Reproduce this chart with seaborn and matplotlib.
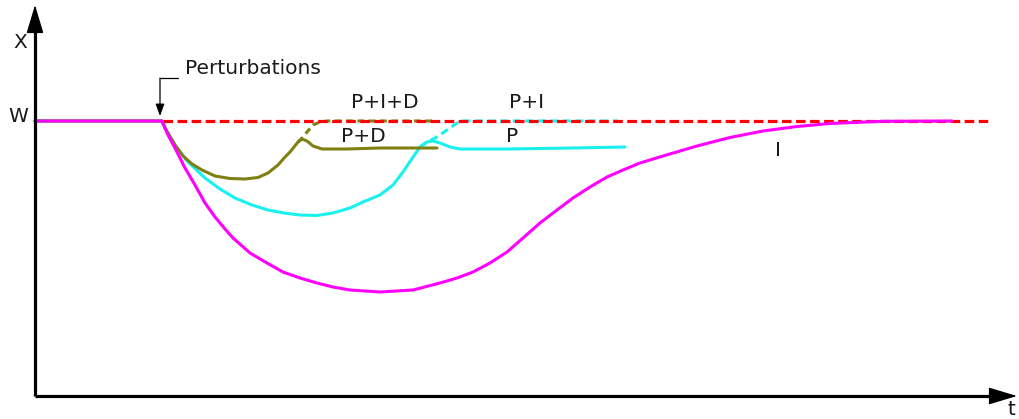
import matplotlib
matplotlib.use("Agg")
import matplotlib.pyplot as plt
import seaborn as sns

# ---- data (t = time, X = controlled variable) ----
W = 275
setpoint_t = [128, 955]

i_t = [0, 127, 133, 140, 150, 160, 170, 180, 190, 198, 215, 232, 248, 265, 282, 298, 315, 345,
       378, 405, 422, 438, 455, 472, 488, 505, 522, 538, 555, 572, 588, 605, 628, 645, 662, 695,
       728, 762, 795, 848, 917]
i_x = [275, 275, 261, 248, 228, 211, 193, 179, 167, 158, 143, 133, 124, 118, 113, 109, 106, 104,
       106, 113, 118, 124, 133, 144, 158, 173, 186, 198, 209, 219, 226, 233, 240, 245, 250, 258.5,
       265, 269.5, 272.5, 274.7, 275]

p_t = [0, 127, 130, 140, 153, 170, 185, 200, 217, 233, 249, 265, 282, 298, 315, 328, 345, 358,
       368, 378, 385, 392, 398, 405, 415, 425, 472, 538, 590]
p_x = [275, 275, 268, 251, 234, 218, 207, 198, 191, 186, 183, 181, 180.5, 183, 188, 194, 201, 211,
       224, 239, 249, 254, 255, 253, 249, 247, 247, 248, 249]

pi_t = [385, 392, 402, 412, 422, 428, 583]
pi_x = [249, 254, 259, 266, 273, 275, 275]

pd_t = [0, 127, 130, 140, 148, 157, 167, 180, 195, 210, 223, 233, 243, 250, 255, 263, 267, 272,
        278, 287, 312, 345, 402]
pd_x = [275, 275, 268, 251, 240, 232, 226, 220, 217.5, 217, 218.5, 223, 231, 239, 244, 254, 257,
        255, 250, 247, 247, 248, 248]

pid_t = [263, 267, 272, 278, 285, 293, 398]
pid_x = [254, 258, 264, 271, 274, 275, 275]

curve_labels = ["P+I+D", "P+D", "P+I", "P", "I"]
label_t = [350, 328, 492, 477, 743]
label_x = [294, 260, 294, 260, 246]

# ---- figure ----
sns.set_style("white")
plt.rcParams["font.family"] = ["DejaVu Sans"]

fig = plt.figure(figsize=(10.19, 4.19), dpi=100)
ax = fig.add_axes([0, 0, 1, 1])
ax.set_xlim(-35, 984)
ax.set_ylim(-23, 396)
ax.axis("off")

cyan = "#19f0f0"
olive = "#7f7f12"
magenta = "#ff00ff"
red = "#ff0000"
LW = 2.2

# dashed (integral) variants first
sns.lineplot(x=pid_t, y=pid_x, ax=ax, color=olive, linewidth=LW, estimator=None,
             linestyle=(0, (2.2, 1.5)))
sns.lineplot(x=pi_t, y=pi_x, ax=ax, color=cyan, linewidth=LW, estimator=None,
             linestyle=(0, (2.6, 1.5)))

# setpoint
sns.lineplot(x=setpoint_t, y=[W, W], ax=ax, color=red, linewidth=2.3, estimator=None,
             linestyle=(0, (3.0, 1.4)))

sns.lineplot(x=p_t, y=p_x, ax=ax, color=cyan, linewidth=LW, estimator=None)
sns.lineplot(x=pd_t, y=pd_x, ax=ax, color=olive, linewidth=LW, estimator=None)
sns.lineplot(x=i_t, y=i_x, ax=ax, color=magenta, linewidth=LW, estimator=None)

# axes with arrows
ax.plot([0, 0], [0, 375], color="black", lw=2.3, solid_capstyle="butt")
ax.plot([0, 965], [0, 0], color="black", lw=2.3, solid_capstyle="butt")
ax.annotate("", xy=(0, 391), xytext=(0, 360),
            arrowprops=dict(arrowstyle="-|>,head_length=1.0,head_width=0.3",
                            mutation_scale=18, color="black", lw=1, shrinkA=0, shrinkB=0))
ax.annotate("", xy=(982, 0), xytext=(950, 0),
            arrowprops=dict(arrowstyle="-|>,head_length=1.0,head_width=0.3",
                            mutation_scale=18, color="black", lw=1, shrinkA=0, shrinkB=0))

txt = "#1a1a1a"
fs = 14.5
ax.text(-15, 354, "X", fontsize=fs, color=txt, ha="center", va="center")
ax.text(-17, 279, "W", fontsize=fs, color=txt, ha="center", va="center")
ax.text(976, -13, "t", fontsize=fs, color=txt, ha="center", va="center")

# perturbation annotation
ax.plot([143, 125], [318, 318], color="black", lw=0.9)
ax.annotate("", xy=(125, 280), xytext=(125, 318),
            arrowprops=dict(arrowstyle="-|>,head_length=0.6,head_width=0.22",
                            mutation_scale=12, color="black", lw=0.9, shrinkA=0, shrinkB=0))
ax.text(150, 328, "Perturbations", fontsize=fs, color=txt, ha="left", va="center")

for s, tx, xx in zip(curve_labels, label_t, label_x):
    ax.text(tx, xx, s, fontsize=fs, color=txt, ha="center", va="center")

fig.savefig("out.png", dpi=100)
